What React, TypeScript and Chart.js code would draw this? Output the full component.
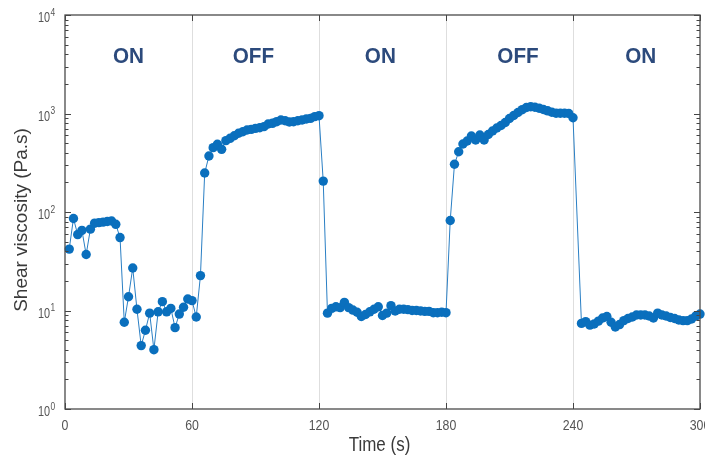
import React, { useEffect, useRef } from "react";
import { Chart, registerables } from "chart.js";

Chart.register(...registerables);

// ---- data ----
const times: number[] = [
  2, 4, 6, 8, 10, 12, 14, 16, 18, 20, 22, 24, 26, 28, 30, 32, 34, 36, 38, 40,
  42, 44, 46, 48, 50, 52, 54, 56, 58, 60, 62, 64, 66, 68, 70, 72, 74, 76, 78, 80,
  82, 84, 86, 88, 90, 92, 94, 96, 98, 100, 102, 104, 106, 108, 110, 112, 114, 116, 118, 120,
  122, 124, 126, 128, 130, 132, 134, 136, 138, 140, 142, 144, 146, 148, 150, 152, 154, 156, 158, 160,
  162, 164, 166, 168, 170, 172, 174, 176, 178, 180, 182, 184, 186, 188, 190, 192, 194, 196, 198, 200,
  202, 204, 206, 208, 210, 212, 214, 216, 218, 220, 222, 224, 226, 228, 230, 232, 234, 236, 238, 240,
  244, 246, 248, 250, 252, 254, 256, 258, 260, 262, 264, 266, 268, 270, 272, 274, 276, 278, 280, 282,
  284, 286, 288, 290, 292, 294, 296, 298, 300,
];

const viscosity: number[] = [
  42, 86, 59, 65, 37, 67, 77, 78, 79, 80, 81, 75, 55, 7.6, 13.8, 27, 10.3, 4.4, 6.3, 9.4,
  4.0, 9.7, 12.3, 9.7, 10.5, 6.7, 9.2, 10.8, 13.1, 12.6, 8.6, 22.6, 249, 370, 450, 487, 433, 530, 560, 595,
  630, 653, 680, 690, 707, 717, 735, 782, 795, 826, 859, 845, 820, 826, 845, 860, 880, 893, 929, 950,
  206, 9.4, 10.5, 10.9, 10.7, 12.1, 10.7, 10.1, 9.6, 8.7, 9.1, 9.7, 10.3, 10.9, 8.9, 9.4, 11.2, 9.9, 10.3, 10.3,
  10.2, 10.0, 10.0, 9.9, 9.8, 9.8, 9.5, 9.5, 9.6, 9.5, 82, 305, 409, 490, 526, 591, 538, 605, 538, 612,
  664, 713, 755, 810, 890, 955, 1024, 1093, 1150, 1172, 1158, 1132, 1098, 1065, 1030, 1007, 1005, 1005, 1000, 906,
  7.4, 7.7, 7.1, 7.3, 7.8, 8.4, 8.7, 7.6, 6.8, 7.2, 7.9, 8.3, 8.6, 9.0, 9.0, 9.0, 8.8, 8.4, 9.4, 9.0,
  8.8, 8.5, 8.3, 8.0, 7.9, 7.9, 8.2, 8.8, 9.2,
];

const xTicks: number[] = [0, 60, 120, 180, 240, 300];
const yExponents: number[] = [0, 1, 2, 3, 4];
const phaseLabels: string[] = ["ON", "OFF", "ON", "OFF", "ON"];
const phaseCenters: number[] = [30, 89, 149, 214, 272];

const xTitle = "Time (s)";
const yTitle = "Shear viscosity (Pa.s)";

const FONT = "'Liberation Sans', Arial, Helvetica, sans-serif";

function drawText(
  ctx: CanvasRenderingContext2D,
  text: string,
  x: number,
  y: number,
  font: string,
  color: string,
  align: CanvasTextAlign,
  sx: number,
  rot = 0
) {
  ctx.save();
  ctx.translate(x, y);
  if (rot) ctx.rotate(rot);
  ctx.scale(sx, 1);
  ctx.font = font;
  ctx.fillStyle = color;
  ctx.textAlign = align;
  ctx.textBaseline = "middle";
  ctx.fillText(text, 0, 0);
  ctx.restore();
}

const decorPlugin = {
  id: "decor",
  afterDraw(chart: any) {
    const { ctx, chartArea: a, scales } = chart;
    const xs = scales.x;
    const ys = scales.y;
    ctx.save();

    // inward ticks
    ctx.strokeStyle = "#444";
    ctx.lineWidth = 1;
    ctx.beginPath();
    for (const t of xTicks) {
      const px = Math.round(xs.getPixelForValue(t)) + 0.5;
      ctx.moveTo(px, a.bottom);
      ctx.lineTo(px, a.bottom - 6);
      ctx.moveTo(px, a.top);
      ctx.lineTo(px, a.top + 6);
    }
    for (const e of yExponents) {
      const py = Math.round(ys.getPixelForValue(Math.pow(10, e))) + 0.5;
      ctx.moveTo(a.left, py);
      ctx.lineTo(a.left + 6, py);
      ctx.moveTo(a.right, py);
      ctx.lineTo(a.right - 6, py);
      if (e < 4) {
        for (let m = 2; m <= 9; m++) {
          const pm = Math.round(ys.getPixelForValue(m * Math.pow(10, e))) + 0.5;
          ctx.moveTo(a.left, pm);
          ctx.lineTo(a.left + 3.5, pm);
          ctx.moveTo(a.right, pm);
          ctx.lineTo(a.right - 3.5, pm);
        }
      }
    }
    ctx.stroke();

    // frame
    ctx.strokeStyle = "#4a4a4a";
    ctx.lineWidth = 1.3;
    ctx.strokeRect(a.left, a.top, a.right - a.left, a.bottom - a.top);

    // x tick labels
    for (const t of xTicks) {
      drawText(ctx, String(t), xs.getPixelForValue(t), a.bottom + 16.5, `14.5px ${FONT}`, "#555555", "center", 0.85);
    }

    // y tick labels 10^n
    for (const e of yExponents) {
      const py = ys.getPixelForValue(Math.pow(10, e));
      const xb = a.left - 15;
      drawText(ctx, "10", xb, py + 3, `14.5px ${FONT}`, "#555555", "right", 0.75);
      drawText(ctx, String(e), xb + 0.5, py - 2, `10.5px ${FONT}`, "#555555", "left", 0.8);
    }

    // axis titles
    drawText(ctx, xTitle, (a.left + a.right) / 2 - 3, a.bottom + 37, `19.5px ${FONT}`, "#3a3a3a", "center", 0.87);
    drawText(ctx, yTitle, 22, (a.top + a.bottom) / 2 + 8, `19px ${FONT}`, "#3a3a3a", "center", 1, -Math.PI / 2);

    // phase labels
    for (let i = 0; i < phaseLabels.length; i++) {
      drawText(ctx, phaseLabels[i], xs.getPixelForValue(phaseCenters[i]), a.top + 42, `bold 22px ${FONT}`, "#2c4a7c", "center", 0.94);
    }

    ctx.restore();
  },
};

export default function App() {
  const ref = useRef<HTMLCanvasElement | null>(null);

  useEffect(() => {
    if (!ref.current) return;
    const chart = new Chart(ref.current, {
      type: "line",
      data: {
        datasets: [
          {
            data: times.map((t, i) => ({ x: t, y: viscosity[i] })),
            borderColor: "#2a7fc4",
            borderWidth: 1,
            backgroundColor: "#0a6fbd",
            pointBackgroundColor: "#0a6fbd",
            pointBorderWidth: 0,
            pointRadius: 4.7,
            pointHoverRadius: 4.7,
            tension: 0,
            clip: false as any,
          },
        ],
      },
      options: {
        animation: false,
        responsive: false,
        layout: { padding: { top: 15, right: 5, left: 0, bottom: 0 } },
        plugins: { legend: { display: false }, tooltip: { enabled: false } },
        events: [],
        scales: {
          x: {
            type: "linear",
            min: 0,
            max: 300,
            ticks: { display: false, stepSize: 60 },
            grid: {
              drawTicks: false,
              lineWidth: 1,
              color: (c: any) =>
                c.tick && (c.tick.value === 0 || c.tick.value === 300) ? "rgba(0,0,0,0)" : "#dedede",
            },
            border: { display: false },
            afterFit: (s: any) => {
              s.height = 48;
              s.paddingLeft = 0;
              s.paddingRight = 0;
            },
          },
          y: {
            type: "logarithmic",
            min: 1,
            max: 10000,
            ticks: { display: false },
            grid: { display: false },
            border: { display: false },
            afterFit: (s: any) => {
              s.width = 65;
              s.paddingTop = 0;
              s.paddingBottom = 0;
            },
          },
        },
      },
      plugins: [decorPlugin],
    });
    return () => chart.destroy();
  }, []);

  return (
    <div style={{ position: "absolute", left: 0, top: 0, width: 705, height: 457, background: "#fff" }}>
      <canvas ref={ref} width={705} height={457} style={{ display: "block" }} />
    </div>
  );
}
